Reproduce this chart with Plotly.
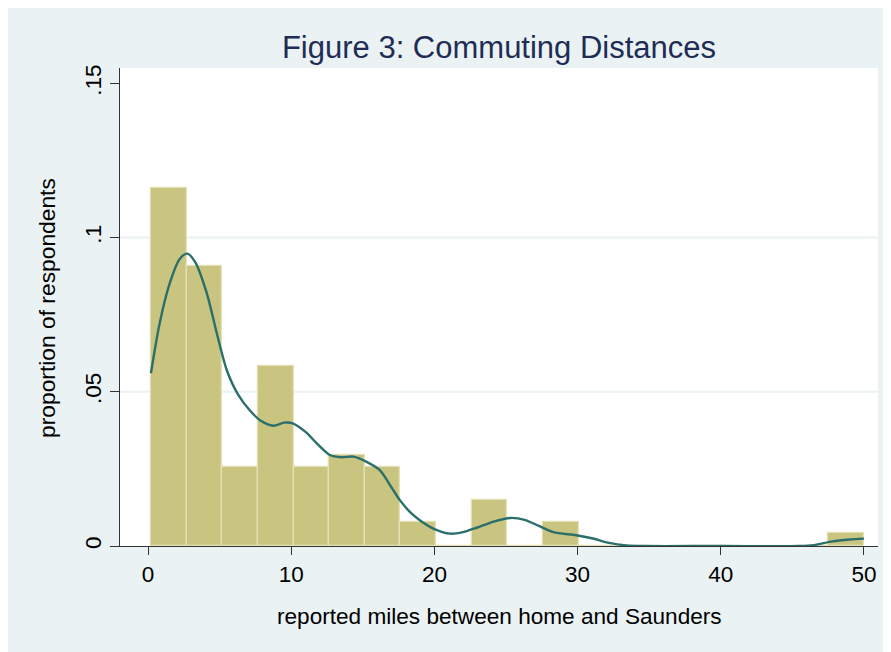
import plotly.graph_objects as go

# ---- data ----
bin_edges = [0.2, 2.69, 5.18, 7.67, 10.16, 12.65, 15.14, 17.63, 20.12, 22.61,
             25.10, 27.59, 30.08, 32.57, 35.06, 37.55, 40.04, 42.53, 45.02,
             47.51, 50.0]
proportions = [0.1161, 0.0907, 0.0256, 0.0583, 0.0256, 0.0294, 0.0256, 0.0078,
               0.0, 0.0150, 0.0, 0.0078, 0.0, 0.0, 0.0, 0.0, 0.0, 0.0, 0.0,
               0.0042]

kde_x = [0.2, 0.8, 1.5, 2.2, 2.74, 3.3, 4.1, 4.8, 5.5, 6.3, 7.1, 7.9, 8.75,
         9.5, 10.1, 11.0, 11.8, 12.7, 13.5, 14.35, 15.3, 16.2, 17.0, 17.6,
         18.3, 19.0, 20.0, 21.1, 22.0, 23.0, 24.2, 25.3, 26.3, 27.3, 28.3,
         29.9, 31.0, 32.2, 33.4, 34.5, 40.0, 45.5, 46.5, 47.8, 49.0, 50.0]
kde_y = [0.056, 0.072, 0.085, 0.093, 0.0948, 0.092, 0.082, 0.069, 0.057,
         0.049, 0.044, 0.0405, 0.039, 0.040, 0.0398, 0.037, 0.0332, 0.0295,
         0.0288, 0.029, 0.0272, 0.0245, 0.019, 0.0148, 0.011, 0.0083, 0.0055,
         0.004, 0.0045, 0.006, 0.008, 0.0091, 0.0085, 0.0065, 0.0045, 0.0035,
         0.0025, 0.001, 0.0002, 0.0, 0.0, 0.0, 0.0003, 0.0015, 0.0021, 0.0024]

x_ticks = [0, 10, 20, 30, 40, 50]
y_ticks = [0, 0.05, 0.1, 0.15]
y_tick_labels = ["0", ".05", ".1", ".15"]
grid_values = [0.05, 0.1]

title_text = "Figure 3: Commuting Distances"
x_title = "reported miles between home and Saunders"
y_title = "proportion of respondents"

# ---- figure ----
x_range = [-1.96, 50.98]
y_range = [0, 0.155]

centers = [(a + b) / 2 for a, b in zip(bin_edges[:-1], bin_edges[1:])]
widths = [b - a for a, b in zip(bin_edges[:-1], bin_edges[1:])]

fig = go.Figure()
fig.add_trace(go.Bar(
    x=centers, y=proportions, width=widths,
    marker=dict(color="#c9c47f", line=dict(color="#e4e1b6", width=1.3)),
    hoverinfo="x+y", showlegend=False,
))
fig.add_trace(go.Scatter(
    x=kde_x, y=kde_y, mode="lines",
    line=dict(color="#2a6f6a", width=2.4, shape="spline", smoothing=0.8),
    showlegend=False,
))

shapes = []
for g in grid_values:
    shapes.append(dict(type="line", xref="x", yref="y",
                       x0=x_range[0], x1=x_range[1], y0=g, y1=g,
                       line=dict(color="#eaf2f3", width=2), layer="below"))

fig.update_layout(
    width=891, height=652,
    margin=dict(l=112, r=21, t=60, b=114),
    paper_bgcolor="#eaf2f3",
    plot_bgcolor="white",
    font=dict(family="Liberation Sans, Arial, sans-serif", size=22, color="black"),
    bargap=0,
    shapes=shapes,
    title=dict(text=title_text, x=0.5, xref="paper", xanchor="center",
               y=1 - 39 / 652, yanchor="middle",
               font=dict(size=31, color="#1f2d56")),
    annotations=[
        dict(text=x_title, xref="paper", yref="paper", x=0.5, y=-0.1485,
             xanchor="center", yanchor="middle", showarrow=False,
             font=dict(size=22.6, color="black")),
        dict(text=y_title, xref="paper", yref="paper", x=-0.0963, y=0.498,
             xanchor="center", yanchor="middle", textangle=-90,
             showarrow=False, font=dict(size=22.8, color="black")),
    ],
)
fig.update_xaxes(
    range=x_range, tickvals=x_ticks, ticks="outside", ticklen=8,
    tickcolor="#333333", showline=True, linecolor="#333333", linewidth=1,
    showgrid=False, zeroline=False, tickfont=dict(size=22.5),
)
fig.update_yaxes(
    range=y_range, tickvals=y_ticks, ticktext=y_tick_labels, ticks="outside",
    ticklen=9, tickcolor="#333333", showline=True, linecolor="#333333",
    linewidth=1, showgrid=False, zeroline=False, tickangle=-90,
    tickfont=dict(size=22.5),
)

fig.write_html("out.html")
